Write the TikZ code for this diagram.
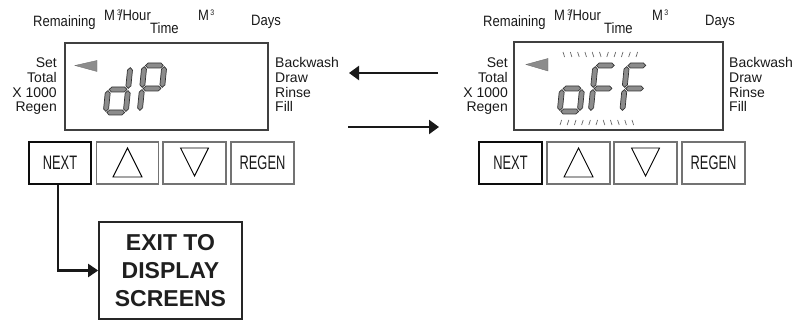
\documentclass[tikz,border=0pt]{standalone}
\usepackage{fontspec}
\setmainfont{Liberation Sans}
\usepackage{graphicx}
\usetikzlibrary{arrows.meta}
\newcommand\condtxt[1]{\scalebox{0.87}[1]{#1}}
\newcommand\btntxt[1]{\scalebox{0.66}[1]{#1}}
\newcommand\supthree{\raisebox{5pt}{\fontsize{8}{8}\selectfont 3}}
\newcommand\myhseg[3]{\filldraw[segfill] (#1,#3) -- (#1+2.5,#3+2.5) -- (#2-2.5,#3+2.5) -- (#2,#3) -- (#2-2.5,#3-2.5) -- (#1+2.5,#3-2.5) -- cycle;}
\newcommand\myvseg[3]{\filldraw[segfill] (#1,#2) -- (#1+2.5,#2+2.5) -- (#1+2.5,#3-2.5) -- (#1,#3) -- (#1-2.5,#3-2.5) -- (#1-2.5,#2+2.5) -- cycle;}
% segments of a digit 25 wide, 51 high (local y up)
\newcommand\sgA{\myhseg{3.6}{21.4}{48.5}}
\newcommand\sgB{\myvseg{22.5}{26.6}{47.4}}
\newcommand\sgC{\myvseg{22.5}{3.6}{24.4}}
\newcommand\sgD{\myhseg{3.6}{21.4}{2.5}}
\newcommand\sgE{\myvseg{2.5}{3.6}{24.4}}
\newcommand\sgF{\myvseg{2.5}{26.6}{47.4}}
\newcommand\sgG{\myhseg{3.6}{21.4}{25.5}}
\tikzset{
 lcd/.style={draw=black!75, line width=1.2pt},
 side/.style={font=\fontsize{14}{14}\selectfont, inner sep=0pt, text=black!90},
 toplbl/.style={font=\fontsize{15}{15}\selectfont, inner sep=0pt, text=black!90},
 btn/.style={draw=black!55, line width=1.3pt, minimum height=42pt, inner sep=0pt, text=black!90, font=\fontsize{19.5}{19.5}\selectfont},
 nextbtn/.style={btn, draw=black!95, line width=1.9pt},
 segfill/.style={fill=black!45, draw=black!80, line width=0.7pt},
 pointer/.style={fill=black!45, draw=black!55, line width=0.4pt},
 flick/.style={draw=black!60, line width=0.7pt},
 tri/.style={draw=black, line width=0.9pt},
 conn/.style={draw=black!90, line width=2.2pt, -{Triangle[length=10pt,width=13pt]}},
 exitbox/.style={draw=black!85, line width=1.7pt, minimum width=143pt, minimum height=97pt, align=center, text=black!88, font=\fontsize{23}{28}\selectfont\bfseries, inner sep=0pt},
}
\begin{document}
\begin{tikzpicture}[x=1pt,y=-1pt]
\useasboundingbox (0,0) rectangle (798,320);
% ================= left panel =================
\node[toplbl, anchor=base west] (remL) at (33,27) {\condtxt{Remaining}};
\node[toplbl, anchor=base west] (mhL) at (104,21) {\condtxt{M\kern2.5pt\supthree\kern-2.5pt/Hour}};
\node[toplbl, anchor=base west] (timeL) at (150,34) {\condtxt{Time}};
\node[toplbl, anchor=base west] (mL) at (198,21) {\condtxt{M\kern1.5pt\supthree}};
\node[toplbl, anchor=base west] (daysL) at (251,26) {\condtxt{Days}};
\draw[lcd] (65,43) rectangle (268,130);
\node[side, anchor=base east] (setL) at (57,68) {Set};
\node[side, anchor=base east] (totL) at (57,83) {Total};
\node[side, anchor=base east] (xL) at (57,97.5) {X 1000};
\node[side, anchor=base east] (regL) at (57,111.5) {Regen};
\node[side, anchor=base west] (bwL) at (275,68) {Backwash};
\node[side, anchor=base west] (drL) at (275,83) {Draw};
\node[side, anchor=base west] (riL) at (275,97.5) {Rinse};
\node[side, anchor=base west] (fiL) at (275,111.5) {Fill};
\filldraw[pointer] (75,65.5) -- (97,60.5) -- (97,71.5) -- cycle;
\begin{scope}[shift={(103,115)}, y=1pt, xslant=0.1]
 \sgB \sgC \sgD \sgE \sgG
\end{scope}
\begin{scope}[shift={(137,114)}, y=1pt, xslant=0.1]
 \sgA \sgB \sgE \sgF \sgG
\end{scope}
\node[nextbtn, minimum width=62pt] (nextL) at (60,163) {\btntxt{NEXT}};
\node[btn, minimum width=62pt] (upL) at (127.5,163) {};
\node[btn, minimum width=63pt] (dnL) at (194.5,163) {};
\node[btn, minimum width=63pt] (regenL) at (262.5,163) {\btntxt{REGEN}};
\draw[tri, shift={(upL.center)}] (0,-15) -- (14.5,14) -- (-14.5,14) -- cycle;
\draw[tri, shift={(dnL.center)}] (-14,-15) -- (14,-15) -- (0,13) -- cycle;
\node[exitbox] (exit) at (170.5,270.5) {EXIT TO\\DISPLAY\\SCREENS};
\draw[conn] ([xshift=-2pt]nextL.south) |- (exit.west);
% ================= middle arrows =================
\coordinate (a1s) at (438,73);
\coordinate (a1e) at (349,73);
\coordinate (a2s) at (348,127);
\coordinate (a2e) at (439,127);
\draw[conn, -{Triangle[length=10pt,width=14pt]}] (a1s) -- (a1e);
\draw[conn, -{Triangle[length=10pt,width=14pt]}] (a2s) -- (a2e);
% ================= right panel =================
\node[toplbl, anchor=base west] (remR) at (483,27) {\condtxt{Remaining}};
\node[toplbl, anchor=base west] (mhR) at (554,21) {\condtxt{M\kern2.5pt\supthree\kern-2.5pt/Hour}};
\node[toplbl, anchor=base west] (timeR) at (604,34) {\condtxt{Time}};
\node[toplbl, anchor=base west] (mR) at (652,21) {\condtxt{M\kern1.5pt\supthree}};
\node[toplbl, anchor=base west] (daysR) at (705,26) {\condtxt{Days}};
\draw[lcd] (514,42) rectangle (723,130);
\node[side, anchor=base east] (setR) at (508,68) {Set};
\node[side, anchor=base east] (totR) at (508,83) {Total};
\node[side, anchor=base east] (xR) at (508,97.5) {X 1000};
\node[side, anchor=base east] (regR) at (508,111.5) {Regen};
\node[side, anchor=base west] (bwR) at (729,68) {Backwash};
\node[side, anchor=base west] (drR) at (729,83) {Draw};
\node[side, anchor=base west] (riR) at (729,97.5) {Rinse};
\node[side, anchor=base west] (fiR) at (729,111.5) {Fill};
\filldraw[pointer] (526,64.5) -- (548,58.5) -- (548,71) -- cycle;
\begin{scope}[shift={(557,114)}, y=1pt, xslant=0.1]
 \sgC \sgD \sgE \sgG
\end{scope}
\begin{scope}[shift={(588,114)}, y=1pt, xslant=0.1]
 \sgA \sgE \sgF \sgG
\end{scope}
\begin{scope}[shift={(619.5,114)}, y=1pt, xslant=0.1]
 \sgA \sgE \sgF \sgG
\end{scope}
\foreach \i in {0,...,5} {\draw[flick] (563+7.3*\i,52) -- ++(1.6,5);}
\foreach \i in {6,...,10} {\draw[flick] (563+7.3*\i+1.6,52) -- ++(-1.6,5);}
\foreach \i in {0,...,5} {\draw[flick] (560+7.2*\i+1.6,120) -- ++(-1.6,5);}
\foreach \i in {6,...,10} {\draw[flick] (560+7.2*\i,120) -- ++(1.6,5);}
\node[nextbtn, minimum width=63pt] (nextR) at (510.5,163) {\btntxt{NEXT}};
\node[btn, minimum width=63pt] (upR) at (578.5,163) {};
\node[btn, minimum width=63pt] (dnR) at (645.5,163) {};
\node[btn, minimum width=63pt] (regenR) at (713.5,163) {\btntxt{REGEN}};
\draw[tri, shift={(upR.center)}] (0,-15) -- (14.5,14) -- (-14.5,14) -- cycle;
\draw[tri, shift={(dnR.center)}] (-14,-15) -- (14,-15) -- (0,13) -- cycle;
\end{tikzpicture}
\end{document}
